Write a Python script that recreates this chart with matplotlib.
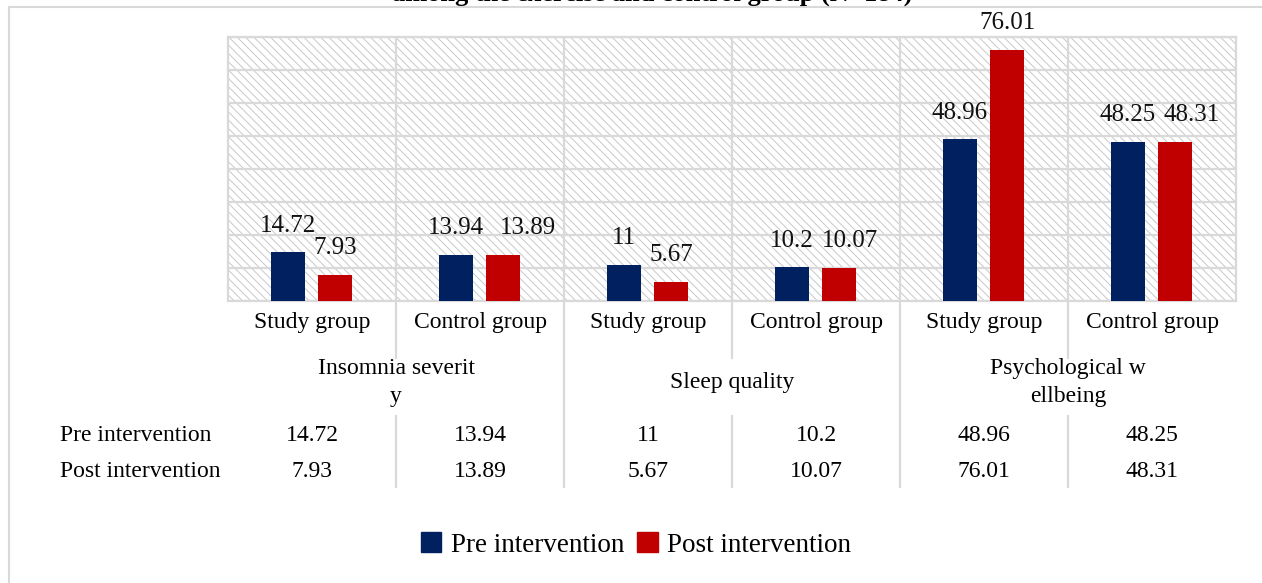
import matplotlib.pyplot as plt
from matplotlib.patches import Patch, Rectangle
from matplotlib.lines import Line2D
import numpy as np

plt.rcParams['font.family'] = ['Liberation Serif', 'DejaVu Serif']
plt.rcParams['hatch.linewidth'] = 0.7
plt.rcParams['hatch.color'] = '#c8c8c8'

# data
groups = ['Study group', 'Control group', 'Study group', 'Control group', 'Study group', 'Control group']
outcomes = ['Insomnia severit\ny', 'Sleep quality', 'Psychological w\nellbeing']
series_names = ['Pre intervention', 'Post intervention']
pre_values = [14.72, 13.94, 11, 10.2, 48.96, 48.25]
post_values = [7.93, 13.89, 5.67, 10.07, 76.01, 48.31]
pre_labels = ['14.72', '13.94', '11', '10.2', '48.96', '48.25']
post_labels = ['7.93', '13.89', '5.67', '10.07', '76.01', '48.31']

pre_color = '#002060'
post_color = '#C00000'
grid_color = '#d9d9d9'

W, H = 1262, 583
fig = plt.figure(figsize=(W / 100, H / 100), dpi=100)
ax = fig.add_axes([228 / W, 1 - 301 / H, 1008 / W, 264 / H])

# hatched plot background
ax.patch.set_facecolor('white')
ax.add_patch(Rectangle((0, 0), 1, 1, transform=ax.transAxes, facecolor='white',
                       edgecolor='#c8c8c8', hatch='\\\\\\\\', linewidth=0, zorder=0))

x = np.arange(len(groups))
bw = 0.197
b1 = ax.bar(x - 0.143, pre_values, bw, color=pre_color, zorder=3)
b2 = ax.bar(x + 0.137, post_values, bw, color=post_color, zorder=3)

# Excel nudges the post labels right where they would collide
post_nudge = [0, 18, 0, 8, 0, 12]
for bars, labs, nudge in ((b1, pre_labels, [0] * 6), (b2, post_labels, post_nudge)):
    for b, lab, dx in zip(bars, labs, nudge):
        ax.annotate(lab, (b.get_x() + b.get_width() / 2, b.get_height()),
                    xytext=(dx, 15), textcoords='offset points', ha='center',
                    va='baseline', fontsize=18, color='#111111', zorder=4)

ax.set_xlim(-0.5, len(groups) - 0.5)
ax.set_ylim(0, 80)
ax.set_yticks(np.arange(0, 81, 10))
ax.set_yticklabels([])
ax.set_xticks([])
ax.tick_params(length=0)
ax.grid(axis='y', color=grid_color, linewidth=1.6, zorder=1)
ax.set_axisbelow(True)
for s in ax.spines.values():
    s.set_color(grid_color)
    s.set_linewidth(1.6)

# vertical separators, extended down through the data table
xt = ax.get_xaxis_transform()
for i in range(1, len(groups)):
    xb = i - 0.5
    ax.plot([xb, xb], [0, 1], transform=xt, color=grid_color, lw=1.6, zorder=1)
    if i % 2 == 0:
        ax.plot([xb, xb], [0, -0.705], transform=xt, color=grid_color, lw=1.6, clip_on=False)
    else:
        ax.plot([xb, xb], [0, -0.216], transform=xt, color=grid_color, lw=1.6, clip_on=False)
        ax.plot([xb, xb], [-0.435, -0.705], transform=xt, color=grid_color, lw=1.6, clip_on=False)

# category labels
for i, g in enumerate(groups):
    ax.text(i, -0.08, g, transform=xt, ha='center', va='center', fontsize=17)
for k, o in enumerate(outcomes):
    ax.text(2 * k + 0.5, -0.31, o, transform=xt, ha='center', va='center',
            fontsize=17, linespacing=1.45)

# data table
rows = [(pre_labels, -0.51), (post_labels, -0.647)]
for (labs, yy), name in zip(rows, series_names):
    fig.text(60 / W, (yy * 264 + (H - 301)) / H, name, ha='left', va='center', fontsize=17)
    for i, lab in enumerate(labs):
        ax.text(i, yy, lab, transform=xt, ha='center', va='center', fontsize=17)

# cut-off title
fig.text(652 / W, 1 - 1 / H, 'among the exercise and control group (N=184)', ha='center',
         va='baseline', fontsize=19, fontweight='bold')

# outer chart frame (top and left only visible)
fig.add_artist(Line2D([9 / W, 1], [1 - 7 / H, 1 - 7 / H], color='#d9d9d9', lw=1.5))
fig.add_artist(Line2D([9 / W, 9 / W], [0, 1 - 7 / H], color='#d9d9d9', lw=1.5))

handles = [Patch(color=pre_color), Patch(color=post_color)]
fig.legend(handles, series_names, loc='center', bbox_to_anchor=(636 / W, 1 - 545 / H),
           ncol=2, frameon=False, fontsize=19.5, handlelength=0.75, handleheight=0.75,
           handletextpad=0.35, columnspacing=0.5)

fig.savefig('out.png', dpi=100)
